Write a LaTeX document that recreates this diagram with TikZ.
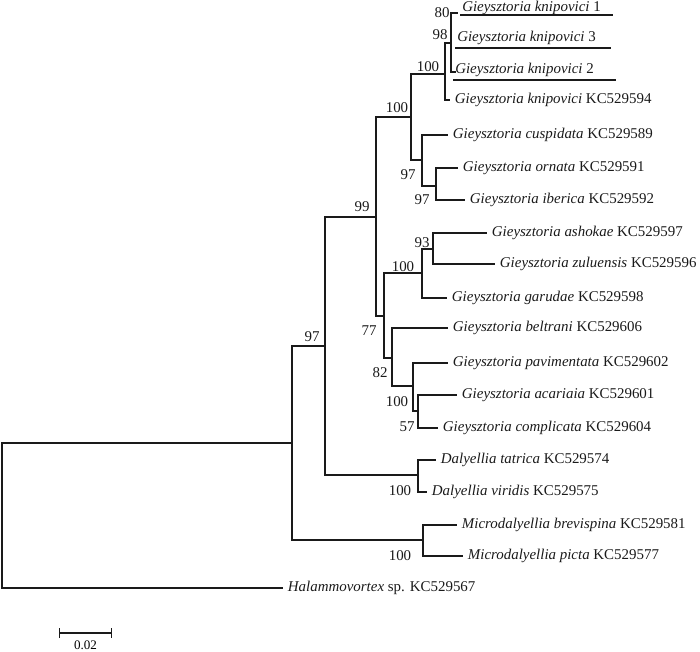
\documentclass[tikz,border=0pt]{standalone}
\usepackage{fontspec}
\setmainfont{Liberation Serif}
\usetikzlibrary{positioning,arrows.meta,calc}
\definecolor{ink}{HTML}{1A1A1A}

\begin{document}
\begin{tikzpicture}[x=0.75pt,y=-0.75pt,font=\fontsize{11.2}{13}\selectfont,
  branch/.style={draw=ink,line width=0.85pt},
  taxon/.style={anchor=west,inner sep=0pt,text=ink},
  boot/.style={font=\fontsize{11.2}{13}\selectfont,inner sep=0pt,text=ink}]
  \useasboundingbox (0,0) rectangle (700,651);
  % internal nodes of the tree
  \foreach \n/\x/\y in {root/2/515, n97/292/443, n99/325/346, nGie/376/217, nKn/411/117, nKs/445/74,
      nKn98/451/43, nCus/422/160, nOrn/436/186, n77/384/316, nAsh/422/273, n93/433/249,
      n82/392/358, nPav/413/386, nAca/418/411, nDal/418/475, nMic/423/540}
    \coordinate (\n) at (\x,\y);
  % tips with their names
  \foreach \n/\x/\y/\lab in {
      kKC/450/100/{\textit{Gieysztoria knipovici} KC529594},
      cus/448/135/{\textit{Gieysztoria cuspidata} KC529589},
      orn/458/168/{\textit{Gieysztoria ornata} KC529591},
      ibe/465/200/{\textit{Gieysztoria iberica} KC529592},
      ash/487/233/{\textit{Gieysztoria ashokae} KC529597},
      zul/495/264/{\textit{Gieysztoria zuluensis} KC529596},
      gar/447/298/{\textit{Gieysztoria garudae} KC529598},
      bel/448/328/{\textit{Gieysztoria beltrani} KC529606},
      pav/448/363/{\textit{Gieysztoria pavimentata} KC529602},
      aca/457/395/{\textit{Gieysztoria acariaia} KC529601},
      com/438/428/{\textit{Gieysztoria complicata} KC529604},
      tat/436/460/{\textit{Dalyellia tatrica} KC529574},
      vir/427/492/{\textit{Dalyellia viridis} KC529575},
      bre/457/525/{\textit{Microdalyellia brevispina} KC529581},
      pic/463/556/{\textit{Microdalyellia picta} KC529577},
      hal/283/588/{\textit{Halammovortex} sp. KC529567}}{
    \coordinate (\n) at (\x,\y);
    \node[taxon] (t\n) at ([xshift=3.5pt]\n) {\lab};
  }
  % new sequences, underlined
  \foreach \n/\num/\x/\y/\ty/\uy/\ul/\ur in {k1/1/458/13/8/15/460/613, k3/3/451/40/38/48/455/611, k2/2/456/72/70/80/453/616}{
    \coordinate (\n) at (\x,\y);
    \node[taxon] (t\n) at (\ul+2,\ty) {\textit{Gieysztoria knipovici} \num};
    \draw[branch] (\ul,\uy) -- (\ur,\uy);
  }
  % branches
  \foreach \p/\c in {root/n97, root/hal, n97/n99, n97/nMic, n99/nGie, n99/nDal, nGie/nKn, nGie/n77,
      nKn/nKs, nKn/nCus, nKs/nKn98, nKs/kKC, nKn98/k1, nKn98/k3, nKn98/k2, nCus/cus, nCus/nOrn,
      nOrn/orn, nOrn/ibe, n77/nAsh, n77/n82, nAsh/n93, nAsh/gar, n93/ash, n93/zul, n82/bel,
      n82/nPav, nPav/pav, nPav/nAca, nAca/aca, nAca/com, nDal/tat, nDal/vir, nMic/bre, nMic/pic}
    \draw[branch] (\p) |- (\c);
  % bootstrap values
  \foreach \i/\x/\y/\v in {1/442/13/80, 2/440/35/98, 3/428/67/100, 4/397/108/100, 5/408/175/97,
      6/422/200/97, 7/362/207/99, 8/422/243/93, 9/403/267/100, 10/369/331/77, 11/380/373/82,
      12/397/402/100, 13/407/427/57, 14/312/337/97, 15/400/491/100, 16/400/556/100}
    \node[boot] (b\i) at (\x,\y) {\v};
  % scale bar
  \coordinate (sbl) at (59,633);
  \coordinate (sbr) at (112,633);
  \draw[branch,{Bar[width=7.5pt]}-{Bar[width=7.5pt]}] (sbl) -- (sbr)
    node[midway,below=5.5pt,inner sep=0pt,font=\fontsize{9.8}{11}\selectfont] (sblab) {0.02};
\end{tikzpicture}
\end{document}
